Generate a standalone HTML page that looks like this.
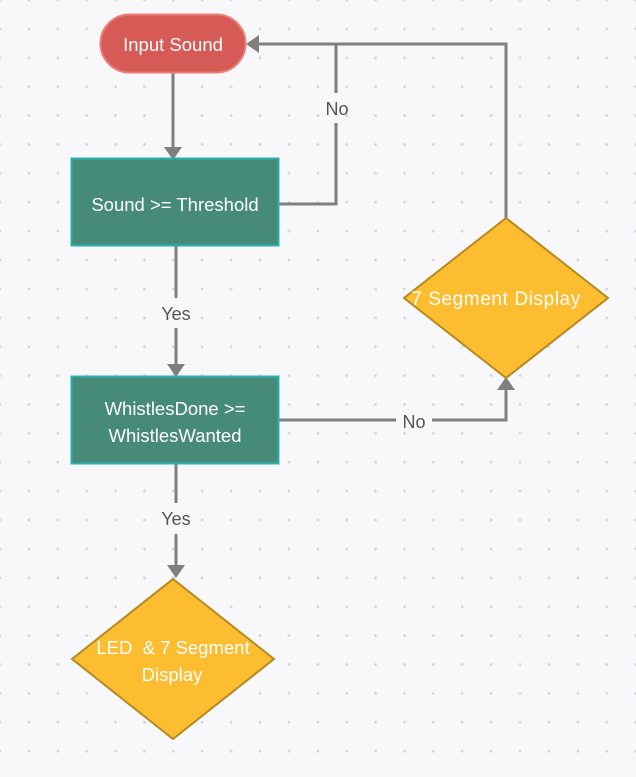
<!DOCTYPE html>
<html><head><style>
html,body{margin:0;padding:0;}
body{width:636px;height:777px;overflow:hidden;background-color:#f8f8fa;
background-image:radial-gradient(circle,#d4d4da 1.2px,transparent 1.6px);
background-size:28.9px 28.9px;background-position:-14.45px -14.45px;}
svg{position:absolute;left:0;top:0;}
text{font-family:"Liberation Sans",sans-serif;}
</style></head><body>
<svg width="636" height="777" viewBox="0 0 636 777">
<g stroke="#7f7f7f" stroke-width="3" fill="none">
<line x1="173" y1="73" x2="173" y2="148"/>
<polyline points="279,204 336,204 336,123"/>
<polyline points="336,93 336,44 258,44"/>
<polyline points="506,218 506,44 336,44"/>
<line x1="176" y1="246" x2="176" y2="298"/>
<line x1="176" y1="328" x2="176" y2="366"/>
<polyline points="279,420 396,420"/>
<polyline points="432,420 506,420 506,388"/>
<line x1="176" y1="464" x2="176" y2="503"/>
<line x1="176" y1="534" x2="176" y2="567"/>
</g>
<g fill="#7f7f7f">
<polygon points="164,147 182,147 173,160"/>
<polygon points="246,44 259,35 259,53"/>
<polygon points="167,364 185,364 176,377"/>
<polygon points="497,390 515,390 506,377"/>
<polygon points="167,565 185,565 176,578"/>
</g>
<rect x="100.5" y="14.5" width="145" height="58" rx="29" fill="#d65a55" stroke="#ec7c78" stroke-width="2"/>
<text x="173" y="51" fill="#fff" font-size="18.5" text-anchor="middle">Input Sound</text>
<rect x="71.5" y="158.5" width="207" height="87" fill="#468a78" stroke="#2ab0b0" stroke-width="2"/>
<text x="175" y="211" fill="#fff" font-size="18.5" text-anchor="middle">Sound &gt;= Threshold</text>
<rect x="71.5" y="376.5" width="207" height="87" fill="#468a78" stroke="#2ab0b0" stroke-width="2"/>
<text x="175" y="415" fill="#fff" font-size="18.5" text-anchor="middle">WhistlesDone &gt;=</text>
<text x="175" y="442" fill="#fff" font-size="18.5" text-anchor="middle">WhistlesWanted</text>
<polygon points="506,218 608,298 506,378 404,298" fill="#fdbd30" stroke="#b58a1e" stroke-width="2"/>
<text x="496" y="305" fill="#fff" font-size="19" text-anchor="middle" letter-spacing="0.6">7 Segment Display</text>
<polygon points="173,579 274,659 173,739 72,659" fill="#fdbd30" stroke="#b58a1e" stroke-width="2"/>
<text x="173" y="654" fill="#fff" font-size="18.5" text-anchor="middle" xml:space="preserve">LED  &amp; 7 Segment</text>
<text x="172" y="681" fill="#fff" font-size="18.5" text-anchor="middle">Display</text>
<g fill="#555" font-size="18" text-anchor="middle">
<text x="337" y="115">No</text>
<text x="176" y="320">Yes</text>
<text x="414" y="428">No</text>
<text x="176" y="525">Yes</text>
</g>
</svg>
</body></html>
